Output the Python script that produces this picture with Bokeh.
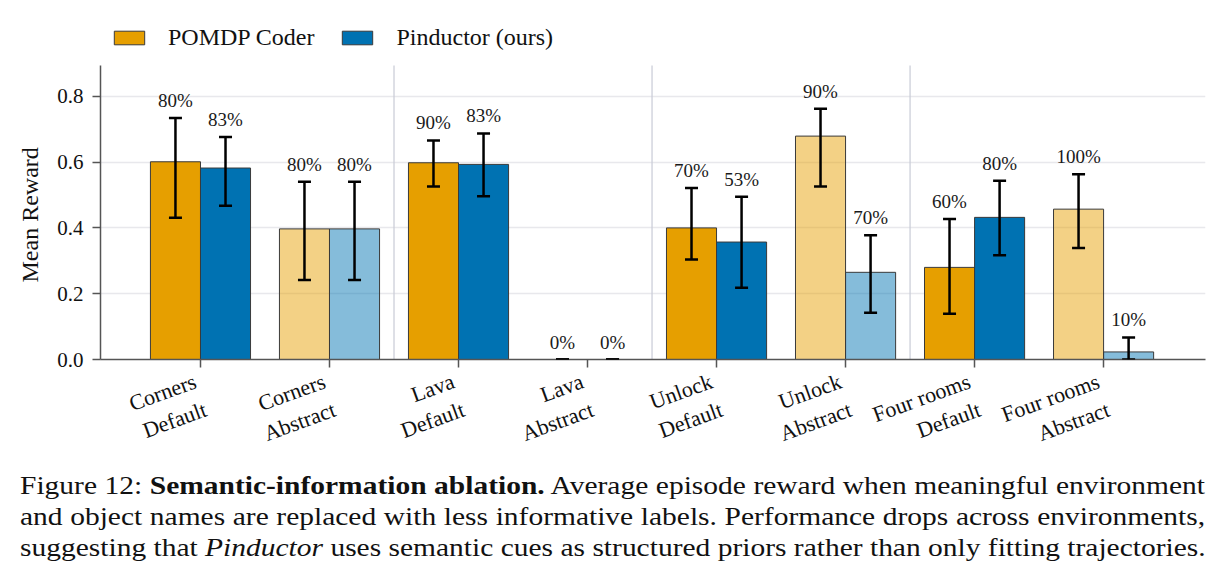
import math
from bokeh.plotting import figure
from bokeh.models import (ColumnDataSource, Range1d, FixedTicker, Legend, LegendItem,
                          Whisker, TeeHead, Div, PrintfTickFormatter, Title)
from bokeh.layouts import column
from bokeh.core.properties import value
from bokeh.embed import file_html
from bokeh.resources import INLINE

# ---- data ----
environments = ["Corners", "Corners", "Lava", "Lava", "Unlock", "Unlock", "Four rooms", "Four rooms"]
conditions = ["Default", "Abstract", "Default", "Abstract", "Default", "Abstract", "Default", "Abstract"]
series_names = ["POMDP Coder", "Pinductor (ours)"]

pomdp_mean = [0.601, 0.397, 0.598, 0.0, 0.400, 0.679, 0.280, 0.457]
pomdp_lower = [0.431, 0.242, 0.526, 0.0, 0.304, 0.526, 0.139, 0.339]
pomdp_upper = [0.734, 0.540, 0.666, 0.0, 0.521, 0.762, 0.427, 0.563]
pomdp_success = ["80%", "80%", "90%", "0%", "70%", "90%", "60%", "100%"]

pind_mean = [0.582, 0.397, 0.593, 0.0, 0.357, 0.265, 0.432, 0.023]
pind_lower = [0.467, 0.242, 0.496, 0.0, 0.218, 0.142, 0.317, 0.0]
pind_upper = [0.676, 0.540, 0.687, 0.0, 0.495, 0.378, 0.543, 0.067]
pind_success = ["83%", "80%", "83%", "0%", "53%", "70%", "80%", "10%"]

y_ticks = [0.0, 0.2, 0.4, 0.6, 0.8]
y_top = 0.8936          # top of the drawn axis
separators = [1.5, 3.5, 5.5]
y_label = "Mean Reward"

tick_labels = [f"{e}\n{c}" for e, c in zip(environments, conditions)]

# ---- styling ----
SERIF = "Liberation Serif"
colors = ["#E69F00", "#0072B2"]
BAR_W = 0.388
FRAME_H = 359
px_per_unit = 294 / y_top

p = figure(width=1225, height=478, output_backend="svg", toolbar_location=None,
           x_range=Range1d(-0.775, 7.79), y_range=Range1d(0, FRAME_H / px_per_unit),
           frame_width=1105, frame_height=FRAME_H,
           min_border_left=100, min_border_right=20, min_border_top=0, min_border_bottom=103)
p.outline_line_color = None
p.background_fill_color = "white"

p.xgrid.grid_line_color = None
p.ygrid.grid_line_color = "#e8e8ec"
p.ygrid.grid_line_width = 1.3
p.ygrid.ticker = FixedTicker(ticks=y_ticks)

p.segment(x0=separators, x1=separators, y0=[0] * len(separators), y1=[y_top] * len(separators),
          line_color="#c8cbd6", line_width=1.2)

idx = list(range(len(environments)))
alphas = [1.0 if c == "Default" else 0.48 for c in conditions]

renderers = []
for k, (means, lows, ups, succ) in enumerate([
        (pomdp_mean, pomdp_lower, pomdp_upper, pomdp_success),
        (pind_mean, pind_lower, pind_upper, pind_success)]):
    offset = -BAR_W / 2 if k == 0 else BAR_W / 2
    src = ColumnDataSource(dict(
        x=[i + offset for i in idx], top=means, lower=lows, upper=ups,
        label=succ, alpha=alphas))
    r = p.vbar(x="x", top="top", width=BAR_W, source=src,
               fill_color=colors[k], fill_alpha="alpha",
               line_color="#3a3a3a", line_width=1.0)
    renderers.append(r)
    w = Whisker(base="x", lower="lower", upper="upper", source=src, dimension="height",
                line_color="black", line_width=2.5, level="annotation",
                lower_head=TeeHead(size=13, line_color="black", line_width=2.5),
                upper_head=TeeHead(size=13, line_color="black", line_width=2.5))
    p.add_layout(w)
    p.text(x="x", y="upper", text="label", source=src, text_align="center",
           text_baseline="bottom", y_offset=-7, text_font=value(SERIF),
           text_font_size="19px", text_color="#1a1a1a")

# axes
p.yaxis.ticker = FixedTicker(ticks=y_ticks)
p.yaxis.bounds = (0, y_top)
p.yaxis.formatter = PrintfTickFormatter(format="%.1f")
p.yaxis.major_label_standoff = 9

ytitle = Title(text=y_label, align="left", offset=77, vertical_align="bottom", standoff=24,
               text_font=SERIF, text_font_style="normal", text_font_size="24px",
               text_color="#111111")
p.add_layout(ytitle, "left")

p.xaxis.ticker = FixedTicker(ticks=idx)
p.xaxis.major_label_overrides = {i: lab for i, lab in zip(idx, tick_labels)}
p.xaxis.major_label_orientation = math.radians(20)
p.xaxis.major_label_standoff = 27

for ax in (p.xaxis[0], p.yaxis[0]):
    ax.axis_line_color = "#555555"
    ax.axis_line_width = 1.5
    ax.major_tick_line_color = "#555555"
    ax.major_tick_line_width = 1.5
    ax.major_tick_out = 8
    ax.major_tick_in = 0
    ax.minor_tick_line_color = None
    ax.major_label_text_font = SERIF
    ax.major_label_text_color = "#111111"
p.yaxis.major_label_text_font_size = "21px"
p.xaxis.major_label_text_font_size = "22px"

legend = Legend(items=[LegendItem(label=series_names[0], renderers=[renderers[0]], index=0),
                       LegendItem(label=series_names[1], renderers=[renderers[1]], index=0)],
                orientation="horizontal", location=(10, 308),
                label_text_font=SERIF, label_text_font_size="24px", label_text_color="#111111",
                glyph_width=38, glyph_height=17, label_standoff=20, spacing=24,
                padding=0, margin=0, border_line_color=None, background_fill_alpha=0)
p.add_layout(legend)

caption_lines = [
    "Figure 12: <b>Semantic-information ablation.</b> Average episode reward when meaningful environment",
    "and object names are replaced with less informative labels. Performance drops across environments,",
    "suggesting that <i>Pinductor</i> uses semantic cues as structured priors rather than only fitting trajectories.",
]
line_style = ("width: 1045px; text-align: justify; text-align-last: justify; white-space: nowrap; "
              "font-family: 'Liberation Serif', serif; font-size: 26px; line-height: 31px; color: #111; "
              "transform: scaleX(1.134); transform-origin: 0 0;")
html = "".join(f'<div style="{line_style}">{ln}</div>' for ln in caption_lines)
caption = Div(text=html, width=1185, margin=(-14, 0, 0, 20))

layout = column(p, caption, spacing=0)
open("out.html", "w").write(file_html(layout, INLINE))
